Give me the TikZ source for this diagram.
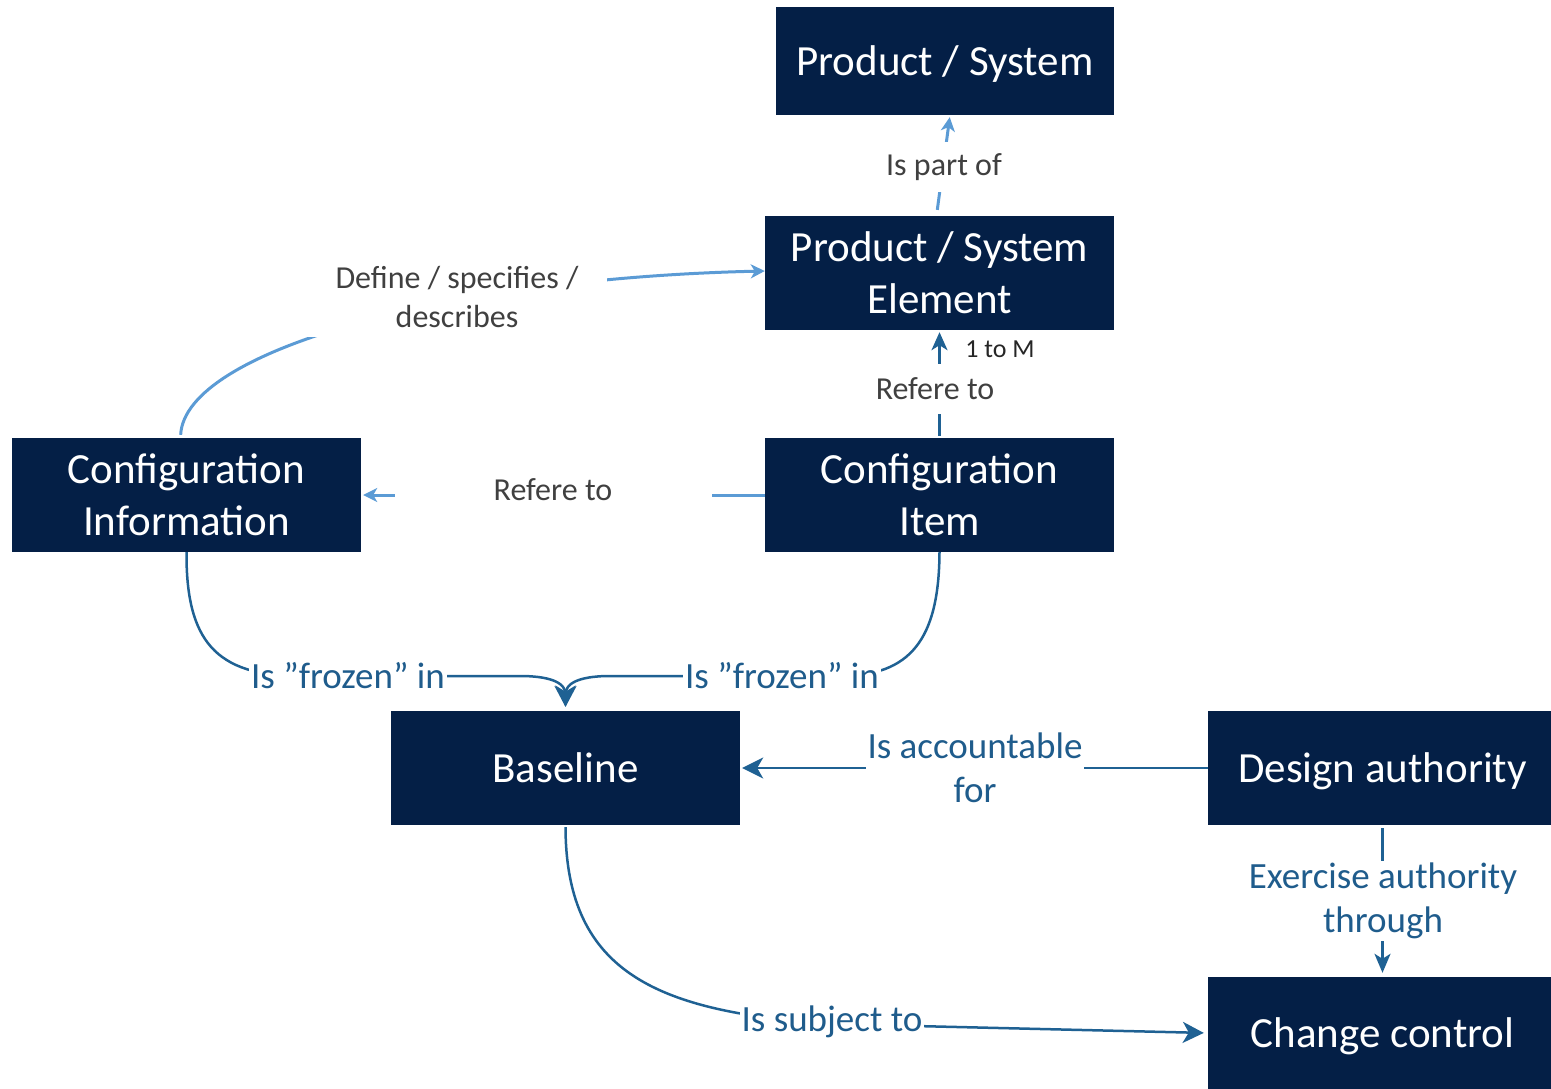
\documentclass[tikz,border=0pt]{standalone}
\usepackage{fontspec}
\setmainfont{Carlito}
\usetikzlibrary{arrows.meta}
\definecolor{navy}{RGB}{4,31,70}
\definecolor{lightb}{RGB}{91,155,213}
\definecolor{darkb}{RGB}{31,97,147}
\definecolor{lblgray}{RGB}{64,64,64}
\definecolor{lblblue}{RGB}{31,92,140}
\begin{document}
\begin{tikzpicture}[x=1pt,y=-1pt,
  box/.style={fill=navy,text=white,minimum width=349pt,minimum height=114pt,align=center,
    font=\fontsize{43}{52}\selectfont,inner sep=0pt,text depth=0pt},
  lightarr/.style={draw=lightb,line width=3pt,-{Stealth[length=14pt,width=14pt,inset=4pt]}},
  darkarr/.style={draw=darkb,line width=2.5pt,-{Stealth[length=21pt,width=21pt,inset=6pt]}},
  toplbl/.style={fill=white,text=lblgray,font=\fontsize{32}{39}\selectfont,align=center,inner sep=2pt},
  botlbl/.style={fill=white,text=lblblue,font=\fontsize{37}{44}\selectfont,align=center,inner sep=2pt}]
\useasboundingbox (0,0) rectangle (1551,1088);
% boxes
\node[box,minimum width=338pt,minimum height=108pt] (ps) at (945,61) {Product / System};
\node[box] (pse) at (939.5,273) {Product / System\\Element};
\node[box] (ci) at (186.5,495) {Configuration\\Information};
\node[box] (cit) at (939.5,495) {Configuration\\Item};
\node[box] (bl) at (565.5,768) {Baseline};
\node[box] (da) at (1382.5,768) {Design authority};
\node[box,minimum height=112pt] (cc) at (1382.5,1033) {Change control};
% Is part of
\draw[lightarr,shorten <=6pt,shorten >=2pt] ([xshift=-3pt]pse.north) -- ([xshift=5pt]ps.south);
\node[toplbl,minimum height=50pt] (lpart) at (944,167) {Is part of};
% Define / specifies / describes
\draw[lightarr,shorten <=3pt] ([xshift=-6pt]ci.north) .. controls (185,350) and (450,278) .. ([yshift=2pt]pse.west);
\node[toplbl,minimum width=300pt,minimum height=80pt] (ldef) at (457,297) {Define / specifies /\\describes};
% Refere to (vertical)
\draw[darkb,line width=2.5pt,-{Stealth[length=18pt,width=16pt,inset=5pt]},shorten <=2pt,shorten >=2pt] (cit.north) -- (pse.south);
\node[toplbl,minimum height=50pt] (lref1) at (935,389) {Refere to};
\node[text=black!85,font=\fontsize{26}{30}\selectfont,inner sep=0pt] (lone) at (1000,349) {1 to M};
% Refere to (horizontal)
\draw[lightarr,shorten >=2pt] (cit.west) -- (ci.east);
\node[toplbl,minimum width=317pt] (lref2) at (553,490) {Refere to};
% Is frozen in
\draw[darkarr,shorten >=4pt] (ci.south) .. controls (186,640) and (215,676) .. (300,676) -- (520,676) .. controls (555,676) and (565,685) .. (bl.north);
\draw[darkarr,shorten >=4pt] (cit.south) .. controls (939,640) and (910,676) .. (840,676) -- (610,676) .. controls (576,676) and (566,685) .. (bl.north);
\node[botlbl] (lfr1) at (348,676) {Is ”frozen” in};
\node[botlbl] (lfr2) at (782,676) {Is ”frozen” in};
% Is accountable for
\draw[darkarr,shorten >=2pt] (da.west) -- (bl.east);
\node[botlbl] (lacc) at (975,768) {Is accountable\\for};
% Exercise authority through
\draw[darkb,line width=2.5pt,-{Stealth[length=19pt,width=16pt,inset=5pt]},shorten <=3pt,shorten >=4pt] (da.south) -- (cc.north);
\node[botlbl] (lex) at (1383,901) {Exercise authority\\through};
% Is subject to
\draw[darkarr,shorten <=2pt,shorten >=4pt] (bl.south) .. controls (566,975) and (660,1012) .. (832,1024) -- (cc.west);
\node[botlbl] (lsub) at (832,1022) {Is subject to};
\end{tikzpicture}
\end{document}
